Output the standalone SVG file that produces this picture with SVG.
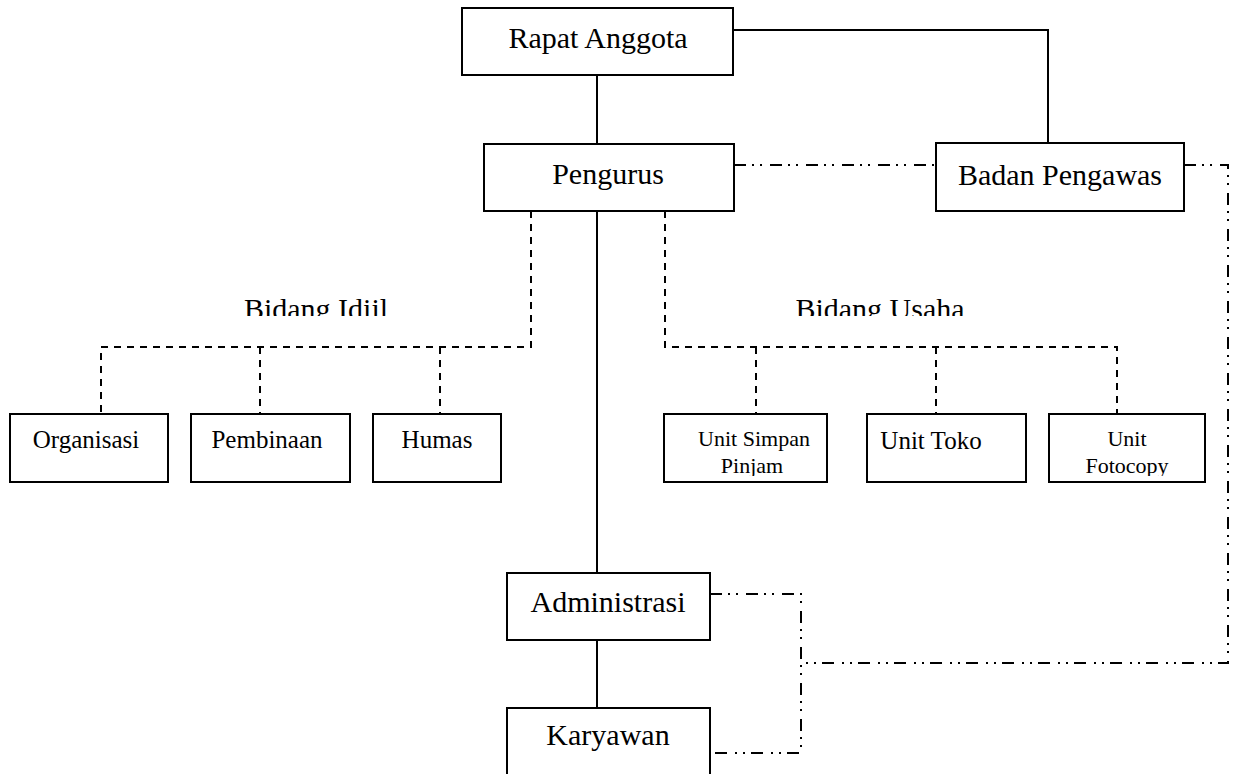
<svg xmlns="http://www.w3.org/2000/svg" width="1234" height="774" viewBox="0 0 1234 774">
<style>
rect.box{fill:#fff;stroke:#000;stroke-width:2}
text{font-family:"Liberation Serif","Times New Roman",serif;fill:#000;text-anchor:middle}
.big{font-size:30px}
.mid{font-size:25px}
.sm{font-size:22px}
.solid{fill:none;stroke:#000;stroke-width:2}
.dash{fill:none;stroke:#000;stroke-width:2;stroke-dasharray:7 6}
.dd{fill:none;stroke:#000;stroke-width:2;stroke-dasharray:12 6 2 6 2 8}
</style>
<defs>
<clipPath id="clipLbl"><rect x="0" y="0" width="1234" height="316"/></clipPath>
<clipPath id="clipUnit"><rect x="0" y="0" width="1234" height="476"/></clipPath>
</defs>
<rect width="1234" height="774" fill="#fff"/>
<g id="connectors">
<path class="solid" d="M597 75V144"/>
<path class="solid" d="M733 30H1048V143"/>
<path class="solid" d="M597 211V573"/>
<path class="solid" d="M597 640V708"/>
<path class="dd" d="M734 165H936"/>
<path class="dd" d="M1184 165H1228V663H801"/>
<path class="dd" d="M710 594H801V753H710"/>
<path class="dash" d="M531 211V347H101V414"/>
<path class="dash" d="M260 347V414"/>
<path class="dash" d="M440 347V414"/>
<path class="dash" d="M665 211V347H1117V414"/>
<path class="dash" d="M756 347V414"/>
<path class="dash" d="M936 347V414"/>
</g>
<g id="label-idiil" clip-path="url(#clipLbl)"><text class="big" x="316" y="319">Bidang Idiil</text></g>
<g id="label-usaha" clip-path="url(#clipLbl)"><text class="big" x="880" y="319">Bidang Usaha</text></g>
<g id="rapat"><rect class="box" x="462" y="8" width="271" height="67"/><text class="big" x="598" y="48">Rapat Anggota</text></g>
<g id="pengurus"><rect class="box" x="484" y="144" width="250" height="67"/><text class="big" x="608" y="184">Pengurus</text></g>
<g id="badan"><rect class="box" x="936" y="143" width="248" height="68"/><text class="big" x="1060" y="185">Badan Pengawas</text></g>
<g id="organisasi"><rect class="box" x="10" y="414" width="158" height="68"/><text class="mid" x="86" y="448">Organisasi</text></g>
<g id="pembinaan"><rect class="box" x="191" y="414" width="159" height="68"/><text class="mid" x="267" y="448">Pembinaan</text></g>
<g id="humas"><rect class="box" x="373" y="414" width="128" height="68"/><text class="mid" x="437" y="448">Humas</text></g>
<g id="simpan"><rect class="box" x="664" y="414" width="163" height="68"/><g clip-path="url(#clipUnit)"><text class="sm" x="754" y="446">Unit Simpan</text><text class="sm" x="752" y="473">Pinjam</text></g></g>
<g id="toko"><rect class="box" x="867" y="414" width="159" height="68"/><text class="mid" x="931" y="449">Unit Toko</text></g>
<g id="fotocopy"><rect class="box" x="1049" y="414" width="156" height="68"/><g clip-path="url(#clipUnit)"><text class="sm" x="1127" y="446">Unit</text><text class="sm" x="1127" y="473">Fotocopy</text></g></g>
<g id="administrasi"><rect class="box" x="507" y="573" width="203" height="67"/><text class="big" x="608" y="612">Administrasi</text></g>
<g id="karyawan"><rect class="box" x="507" y="708" width="203" height="70"/><text class="big" x="608" y="745">Karyawan</text></g>
</svg>
